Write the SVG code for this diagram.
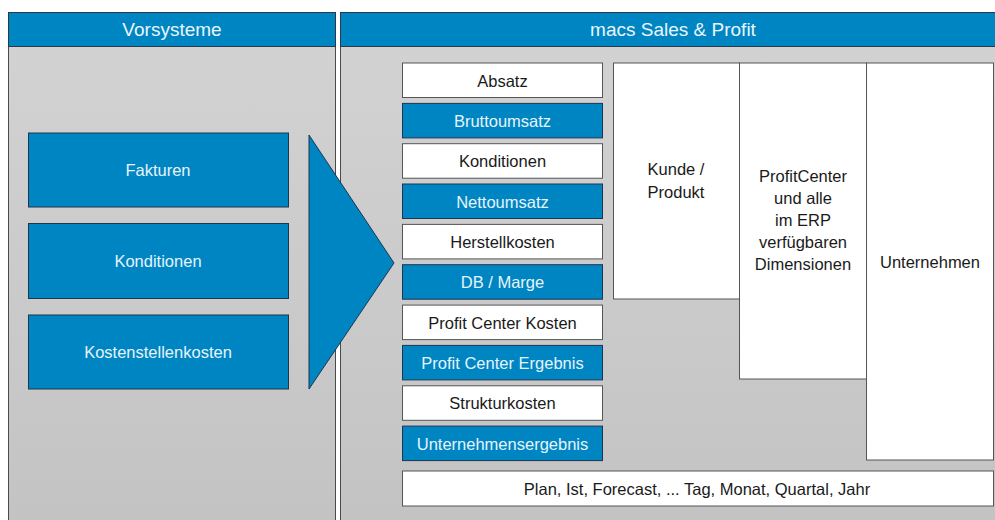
<svg xmlns="http://www.w3.org/2000/svg" width="995" height="520" viewBox="0 0 995 520">
<defs>
<linearGradient id="bg" x1="0" y1="0" x2="0" y2="1">
<stop offset="0" stop-color="#d3d3d3"/>
<stop offset="1" stop-color="#c3c3c3"/>
</linearGradient>
<style>
.panel{fill:url(#bg);stroke:#4a4a4a;stroke-width:1}
.hdr{fill:#0085c3;stroke:#2a3a4a;stroke-width:1}
.blue{fill:#0085c3;stroke:#1e3550;stroke-width:1}
.white{fill:#ffffff;stroke:#555555;stroke-width:1}
text{font-family:"Liberation Sans",Arial,sans-serif;text-anchor:middle}
.ht{font-size:19px;fill:#eaf6fc}
.bt{font-size:16.5px;fill:#e6f4fb}
.wt{font-size:16.5px;fill:#1a1a1a}
</style>
</defs>
<rect width="995" height="520" fill="#ffffff"/>
<g id="panel-vorsysteme">
<rect class="panel" x="8.5" y="12.5" width="327" height="520"/>
<rect class="hdr" x="8.5" y="12.5" width="327" height="34"/>
<text class="ht" x="172" y="35.5">Vorsysteme</text>
</g>
<g id="panel-macs">
<rect class="panel" x="340.5" y="12.5" width="660" height="520"/>
<rect class="hdr" x="340.5" y="12.5" width="660" height="34"/>
<text class="ht" x="673" y="35.5">macs Sales &amp; Profit</text>
</g>
<g id="node-fakturen">
<rect class="blue" x="28.5" y="133" width="260" height="74"/>
<text class="bt" x="158" y="176">Fakturen</text>
</g>
<g id="node-konditionen-src">
<rect class="blue" x="28.5" y="223.5" width="260" height="75"/>
<text class="bt" x="158" y="267">Konditionen</text>
</g>
<g id="node-kostenstellenkosten">
<rect class="blue" x="28.5" y="315" width="260" height="74"/>
<text class="bt" x="158" y="358">Kostenstellenkosten</text>
</g>
<g id="connectors">
<polygon points="309,135 394,263 309,389" fill="#0085c3" stroke="#1e3550" stroke-width="1"/>
</g>
<g id="node-absatz"><rect class="white" x="402.5" y="63" width="200" height="34.5"/><text class="wt" x="502.5" y="86.5">Absatz</text></g>
<g id="node-bruttoumsatz"><rect class="blue" x="402.5" y="103.4" width="200" height="34.5"/><text class="bt" x="502.5" y="126.9">Bruttoumsatz</text></g>
<g id="node-konditionen"><rect class="white" x="402.5" y="143.7" width="200" height="34.5"/><text class="wt" x="502.5" y="167.2">Konditionen</text></g>
<g id="node-nettoumsatz"><rect class="blue" x="402.5" y="184" width="200" height="34.5"/><text class="bt" x="502.5" y="207.5">Nettoumsatz</text></g>
<g id="node-herstellkosten"><rect class="white" x="402.5" y="224.4" width="200" height="34.5"/><text class="wt" x="502.5" y="247.9">Herstellkosten</text></g>
<g id="node-db-marge"><rect class="blue" x="402.5" y="264.7" width="200" height="34.5"/><text class="bt" x="502.5" y="288.2">DB / Marge</text></g>
<g id="node-pc-kosten"><rect class="white" x="402.5" y="305.1" width="200" height="34.5"/><text class="wt" x="502.5" y="328.6">Profit Center Kosten</text></g>
<g id="node-pc-ergebnis"><rect class="blue" x="402.5" y="345.4" width="200" height="34.5"/><text class="bt" x="502.5" y="368.9">Profit Center Ergebnis</text></g>
<g id="node-strukturkosten"><rect class="white" x="402.5" y="385.8" width="200" height="34.5"/><text class="wt" x="502.5" y="409.3">Strukturkosten</text></g>
<g id="node-unternehmensergebnis"><rect class="blue" x="402.5" y="426.1" width="200" height="34.5"/><text class="bt" x="502.5" y="449.6">Unternehmensergebnis</text></g>
<g id="node-kunde-produkt">
<rect class="white" x="613.5" y="63" width="126" height="236"/>
<text class="wt" x="676" y="175">Kunde /</text>
<text class="wt" x="676" y="198">Produkt</text>
</g>
<g id="node-profitcenter">
<rect class="white" x="739.5" y="63" width="127" height="316"/>
<text class="wt" x="803" y="182">ProfitCenter</text>
<text class="wt" x="803" y="204">und alle</text>
<text class="wt" x="803" y="226">im ERP</text>
<text class="wt" x="803" y="248">verfügbaren</text>
<text class="wt" x="803" y="270">Dimensionen</text>
</g>
<g id="node-unternehmen">
<rect class="white" x="866.5" y="63" width="127" height="397"/>
<text class="wt" x="930" y="268">Unternehmen</text>
</g>
<g id="node-zeit">
<rect class="white" x="402.5" y="471" width="591" height="35"/>
<text class="wt" x="697" y="494.5">Plan, Ist, Forecast, ... Tag, Monat, Quartal, Jahr</text>
</g>
</svg>
